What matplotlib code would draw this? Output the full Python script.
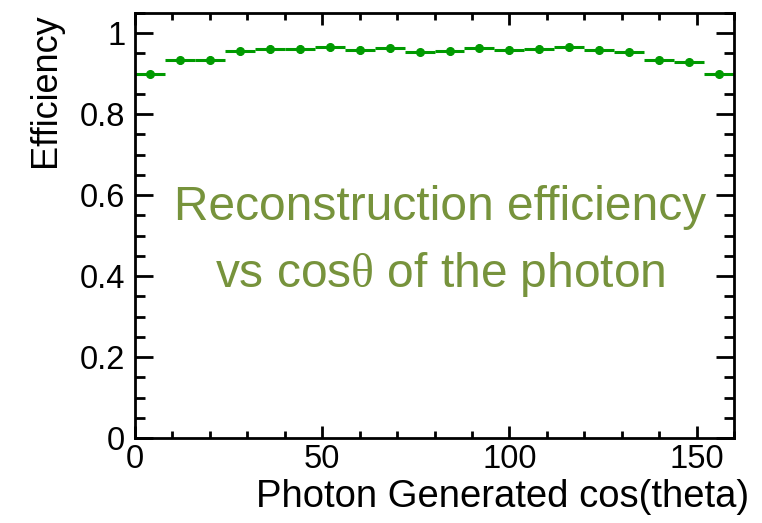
import matplotlib
matplotlib.use("Agg")
import matplotlib.pyplot as plt
from matplotlib.ticker import MultipleLocator, FuncFormatter

plt.rcParams["font.family"] = ["Liberation Sans", "DejaVu Sans"]
plt.rcParams["mathtext.fontset"] = "custom"
plt.rcParams["mathtext.rm"] = "Liberation Serif"
plt.rcParams["mathtext.it"] = "Liberation Serif"

# Bin centres (width 8) and reconstruction efficiency per bin
bin_centers = [4, 12, 20, 28, 36, 44, 52, 60, 68, 76,
               84, 92, 100, 108, 116, 124, 132, 140, 148, 156]
efficiency = [0.900, 0.933, 0.935, 0.955, 0.960, 0.960, 0.965, 0.959, 0.963, 0.953,
              0.955, 0.964, 0.959, 0.960, 0.965, 0.959, 0.953, 0.933, 0.930, 0.900]
eff_error = [0.006, 0.009, 0.008, 0.009, 0.010, 0.010, 0.008, 0.010, 0.009, 0.007,
             0.009, 0.009, 0.010, 0.010, 0.009, 0.009, 0.008, 0.008, 0.007, 0.006]
bin_half_width = 4

green = "#009a00"
olive = "#77933c"

fig = plt.figure(figsize=(7.62, 5.23), dpi=100)
ax = fig.add_axes([0.1772, 0.1625, 0.9633 - 0.1772, 0.9751 - 0.1625])

ax.errorbar(bin_centers, efficiency, xerr=bin_half_width, yerr=eff_error,
            fmt="o", color=green, ecolor=green, elinewidth=2.2,
            markersize=5.5, capsize=0)

ax.set_xlim(0, 160)
ax.set_ylim(0, 1.05)

ax.xaxis.set_major_locator(MultipleLocator(50))
ax.xaxis.set_minor_locator(MultipleLocator(10))
ax.yaxis.set_major_locator(MultipleLocator(0.2))
ax.yaxis.set_minor_locator(MultipleLocator(0.05))
ax.yaxis.set_major_formatter(FuncFormatter(lambda v, p: f"{v:g}"))

for s in ax.spines.values():
    s.set_linewidth(2.0)

ax.tick_params(axis="both", which="both", direction="in", top=True, right=True,
               width=2.0, labelsize=23.5)
ax.tick_params(axis="y", which="major", length=13, pad=7)
ax.tick_params(axis="y", which="minor", length=7)
ax.tick_params(axis="x", which="major", length=8.6, pad=4)
ax.tick_params(axis="x", which="minor", length=5)

ax.set_ylabel("Efficiency", fontsize=26, loc="top", labelpad=12)
ax.set_xlabel("Photon Generated cos(theta)", fontsize=27.5, loc="right", labelpad=3)
ax.xaxis.label.set_x(1.025)

ax.text(0.509, 0.513, "Reconstruction efficiency", transform=ax.transAxes,
        ha="center", va="baseline", fontsize=34.5, color=olive)
ax.text(0.509, 0.355, r"vs cos$\mathrm{\theta}$ of the photon", transform=ax.transAxes,
        ha="center", va="baseline", fontsize=34.5, color=olive)

fig.savefig("out.png", dpi=100)
